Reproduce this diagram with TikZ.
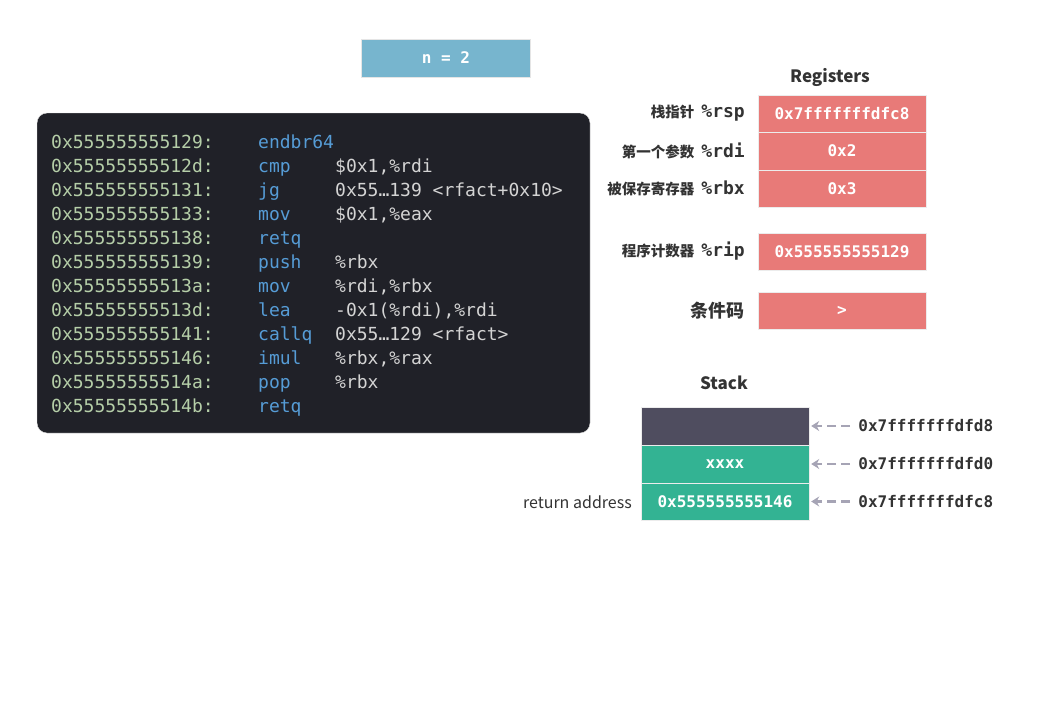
\documentclass[tikz,border=0pt]{standalone}
\usepackage{fontspec}
\setmainfont{Noto Sans CJK SC}
\setmonofont{DejaVu Sans Mono}
\usetikzlibrary{arrows.meta}
\definecolor{codebg}{HTML}{202128}
\definecolor{addrgreen}{HTML}{B5CEA8}
\definecolor{opblue}{HTML}{569CD6}
\definecolor{argwhite}{HTML}{D4D4D4}
\definecolor{nblue}{HTML}{77B5CE}
\definecolor{regred}{HTML}{E87A78}
\definecolor{stackdark}{HTML}{4F4D5F}
\definecolor{stackgreen}{HTML}{33B393}
\definecolor{textdark}{HTML}{333333}
\definecolor{arrowgray}{HTML}{A6A4B5}
\tikzset{
  codetext/.style={anchor=base west,inner sep=0pt,font=\ttfamily\fontsize{18}{20}\selectfont},
  regbox/.style={draw=white!85!gray,fill=regred,minimum width=168pt,minimum height=37.5pt,inner sep=0pt,text=white,font=\ttfamily\bfseries\fontsize{16}{18}\selectfont},
  stackbox/.style={draw=white!85!gray,minimum width=168pt,minimum height=37.5pt,inner sep=0pt,text=white,font=\ttfamily\bfseries\fontsize{16}{18}\selectfont},
  reglabel/.style={anchor=east,inner sep=0pt,text=textdark},
  title/.style={text=textdark,font=\bfseries\fontsize{17}{20}\selectfont},
  addrlabel/.style={anchor=west,inner sep=0pt,text=textdark,font=\ttfamily\bfseries\fontsize{16}{18}\selectfont},
  addrarrow/.style={arrowgray,line width=2.5pt,dash pattern=on 9pt off 5pt,-{Stealth[length=8pt,width=10pt]}}
}
\begin{document}
\begin{tikzpicture}[x=1pt,y=-1pt]
  \useasboundingbox (0,0) rectangle (1060,720);
  % value of n
  \node[draw=white!80!gray,fill=nblue,minimum width=169pt,minimum height=38pt,inner sep=0pt,
    text=white,font=\ttfamily\bfseries\fontsize{16}{18}\selectfont] (n) at (446,58) {n = 2};
  % disassembly
  \filldraw[fill=codebg,draw=white!80!gray,rounded corners=10pt] (37,113) rectangle (590,433);
  \foreach \a/\m/\o [count=\i from 0] in {129/endbr64/{}, 12d/cmp/{\$0x1,\%rdi},
      131/jg/{0x55…139 <rfact+0x10>}, 133/mov/{\$0x1,\%eax}, 138/retq/{},
      139/push/{\%rbx}, 13a/mov/{\%rdi,\%rbx}, 13d/lea/{-0x1(\%rdi),\%rdi},
      141/callq/{0x55…129 <rfact>}, 146/imul/{\%rbx,\%rax}, 14a/pop/{\%rbx}, 14b/retq/{}} {
    \node[codetext,text=addrgreen] (addr\i) at (51,148+24*\i) {0x555555555\a:};
    \node[codetext,text=opblue] (mn\i) at (258,148+24*\i) {\m};
    \node[codetext,text=argwhite] (arg\i) at (335,148+24*\i) {\o};
  }
  % registers
  \node[title] (regtitle) at (830,77) {Registers};
  \foreach \n/\y/\cn/\v in {rsp/113.5/栈指针/0x7fffffffdfc8, rdi/151/第一个参数/0x2,
      rbx/188.5/被保存寄存器/0x3, rip/251.5/程序计数器/0x555555555129} {
    \node[regbox] (\n) at (842,\y) {\v};
    \node[reglabel] (\n label) at (745,\y)
      {{\bfseries\fontsize{14.5}{16}\selectfont \cn}\hspace{7pt}{\ttfamily\bfseries\fontsize{18}{20}\selectfont \%\n}};
  }
  \node[regbox] (cc) at (842,310.5) {>};
  \node[reglabel,font=\bfseries\fontsize{18}{20}\selectfont] (cc label) at (745,310.5) {条件码};
  % stack
  \node[title] (stacktitle) at (724,383) {Stack};
  \node[stackbox,fill=stackdark] (s0) at (725,426) {};
  \node[stackbox,fill=stackgreen] (s1) at (725,464) {xxxx};
  \node[stackbox,fill=stackgreen] (s2) at (725,501.5) {0x555555555146};
  \node[reglabel,font=\fontsize{16}{18}\selectfont] (ret) at (632,502) {return address};
  \foreach \s/\v in {0/0x7fffffffdfd8, 1/0x7fffffffdfd0, 2/0x7fffffffdfc8} {
    \node[addrlabel] (a\s) at ([xshift=49pt]s\s.east) {\v};
    \draw[addrarrow] ([xshift=-8pt]a\s.west) -- ([xshift=2pt]s\s.east);
  }
\end{tikzpicture}
\end{document}
